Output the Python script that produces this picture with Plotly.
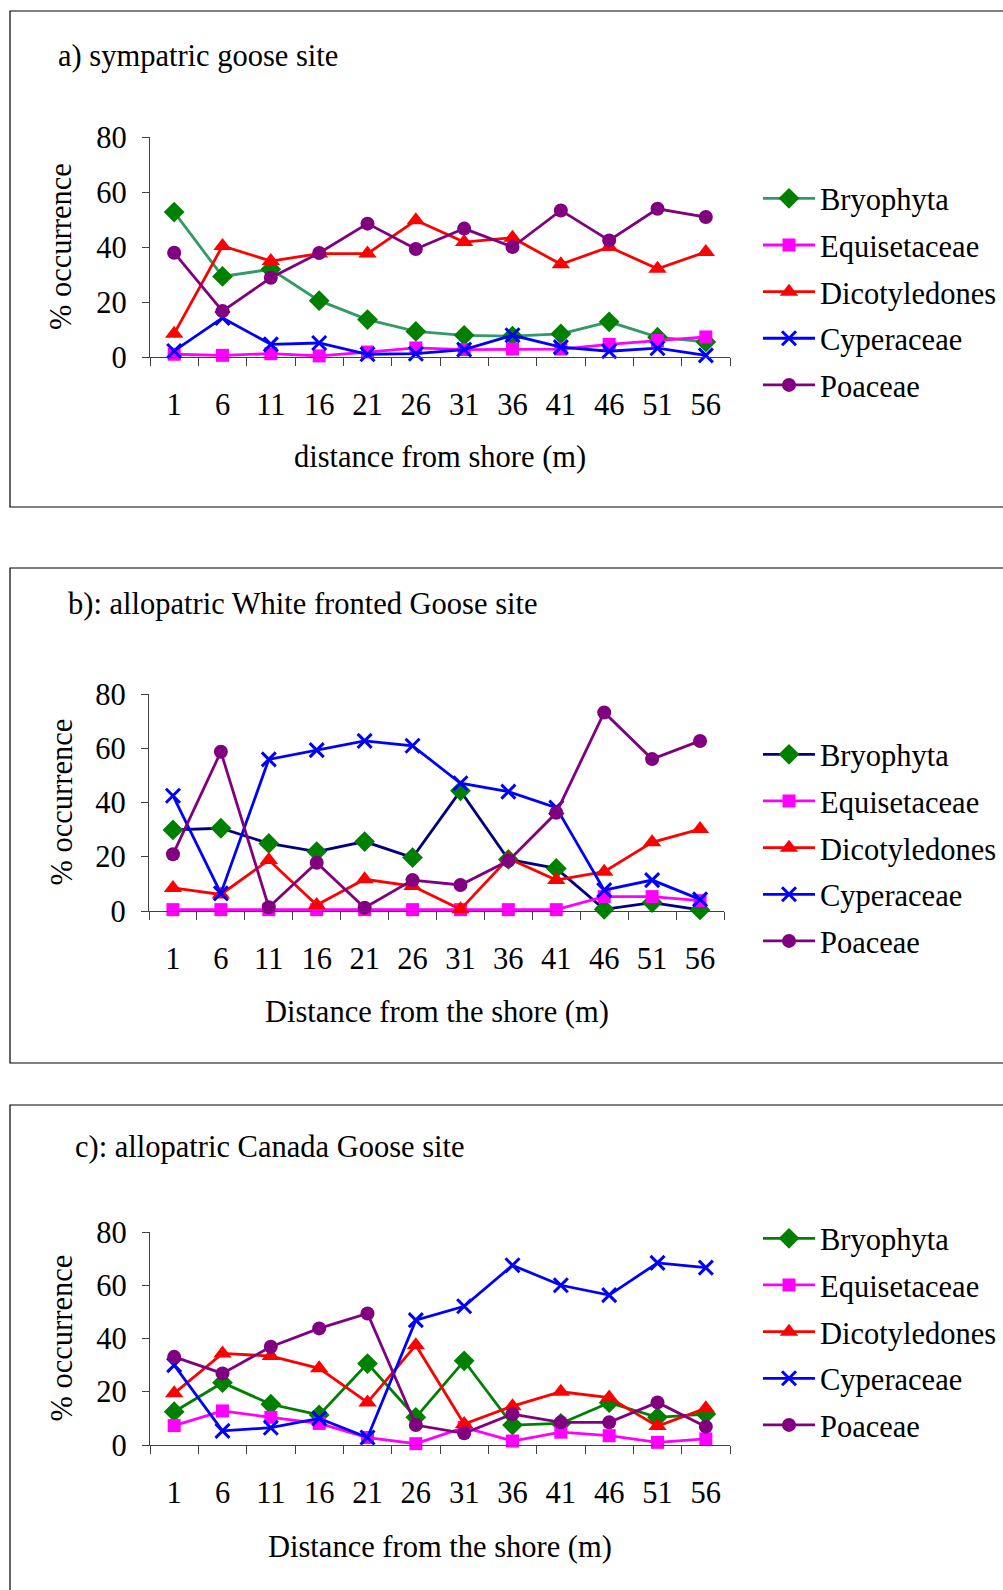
import plotly.graph_objects as go

W, H = 1003, 1590

distances = ["1", "6", "11", "16", "21", "26", "31", "36", "41", "46", "51", "56"]
species = ["Bryophyta", "Equisetaceae", "Dicotyledones", "Cyperaceae", "Poaceae"]

# Panel a: sympatric goose site
a_bryophyta = [52.7, 29.3, 31.9, 20.5, 13.6, 9.3, 7.9, 7.6, 8.4, 12.8, 7.2, 5.5]
a_equisetaceae = [1.0, 0.6, 1.2, 0.4, 1.8, 3.3, 2.7, 2.9, 2.9, 4.6, 6.0, 7.3]
a_dicotyledones = [8.5, 40.4, 34.9, 37.6, 37.6, 49.7, 41.8, 43.4, 33.7, 40.0, 32.1, 38.2]
a_cyperaceae = [2.2, 14.2, 4.6, 5.1, 1.0, 1.2, 2.7, 7.9, 3.6, 2.1, 3.2, 0.6]
a_poaceae = [37.9, 16.7, 28.8, 37.8, 48.5, 39.3, 46.7, 40.0, 53.3, 42.4, 53.9, 50.9]

# Panel b: allopatric White fronted Goose site
b_bryophyta = [29.9, 30.5, 24.9, 21.9, 25.6, 19.7, 44.3, 19.0, 15.7, 0.6, 3.1, 0.4]
b_equisetaceae = [0.5, 0.5, 0.5, 0.5, 0.5, 0.5, 0.5, 0.5, 0.5, 5.3, 5.3, 3.8]
b_dicotyledones = [8.5, 6.1, 18.8, 2.2, 11.7, 9.2, 0.6, 19.4, 11.4, 14.5, 25.3, 30.2]
b_cyperaceae = [42.5, 6.5, 55.9, 59.3, 62.7, 60.9, 47.1, 44.0, 38.1, 7.7, 11.4, 4.3]
b_poaceae = [20.9, 58.7, 1.4, 17.8, 1.2, 11.4, 9.6, 18.5, 36.2, 73.2, 56.0, 62.7]

# Panel c: allopatric Canada Goose site
c_bryophyta = [12.5, 23.4, 15.3, 11.3, 30.6, 10.4, 31.6, 7.5, 8.1, 15.9, 10.4, 11.6]
c_equisetaceae = [7.3, 12.8, 10.4, 8.1, 2.8, 0.5, 6.6, 1.5, 4.8, 3.5, 1.0, 2.3]
c_dicotyledones = [19.4, 34.4, 33.4, 28.8, 16.0, 37.5, 7.9, 14.6, 20.0, 17.8, 7.1, 13.8]
c_cyperaceae = [30.0, 5.3, 6.5, 10.0, 2.8, 46.9, 52.1, 67.5, 60.0, 56.3, 68.4, 66.6]
c_poaceae = [33.1, 26.9, 36.9, 43.8, 49.4, 7.5, 4.4, 11.6, 8.5, 8.5, 16.0, 6.9]

y_ticks = [0, 20, 40, 60, 80]

titles = ["a) sympatric goose site",
          "b): allopatric White fronted Goose site",
          "c): allopatric Canada Goose site"]
x_titles = ["distance from shore (m)",
            "Distance from the shore (m)",
            "Distance from the shore (m)"]
y_title = "% occurrence"

FONT = "Liberation Serif, Times New Roman, serif"
FS = 30.5


def px(x):
    return x / W


def py(y):
    return 1 - y / H


panels = [
    dict(data=[a_bryophyta, a_equisetaceae, a_dicotyledones, a_cyperaceae, a_poaceae],
         bryo_line="#339966", x0=150, x1=730, ytop=137, ybot=357,
         box=(10, 11, 1013, 507), title_xy=(56, 56), xt_y=457, leg_y=172),
    dict(data=[b_bryophyta, b_equisetaceae, b_dicotyledones, b_cyperaceae, b_poaceae],
         bryo_line="#000080", x0=149, x1=724, ytop=694, ybot=911,
         box=(10, 568, 1013, 1063), title_xy=(66, 604), xt_y=1012, leg_y=728),
    dict(data=[c_bryophyta, c_equisetaceae, c_dicotyledones, c_cyperaceae, c_poaceae],
         bryo_line="#008000", x0=150, x1=730, ytop=1232, ybot=1445,
         box=(10, 1105, 1013, 1610), title_xy=(73, 1147), xt_y=1547, leg_y=1212),
]

fig = go.Figure()
layout = dict(width=W, height=H, margin=dict(l=0, r=0, t=0, b=0, pad=0, autoexpand=False),
              paper_bgcolor="white", plot_bgcolor="white",
              font=dict(family=FONT, size=FS, color="black"))
shapes = []
annotations = []

for i, p in enumerate(panels):
    n = i + 1
    xa = "x" if n == 1 else f"x{n}"
    ya = "y" if n == 1 else f"y{n}"
    lg = "legend" if n == 1 else f"legend{n}"
    styles = [
        dict(line=dict(color=p["bryo_line"], width=2.8),
             marker=dict(symbol="diamond", size=16, color="#008000")),
        dict(line=dict(color="#FF00FF", width=2.8),
             marker=dict(symbol="square", size=13, color="#FF00FF")),
        dict(line=dict(color="#FF0000", width=2.8),
             marker=dict(symbol="triangle-up", size=16, color="#FF0000")),
        dict(line=dict(color="#0000FF", width=2.8),
             marker=dict(symbol="x-thin", size=14, color="#0000FF",
                         line=dict(color="#0000FF", width=3))),
        dict(line=dict(color="#800080", width=2.8),
             marker=dict(symbol="circle", size=14, color="#800080")),
    ]
    for name, vals, st in zip(species, p["data"], styles):
        fig.add_trace(go.Scatter(x=distances, y=vals, name=name, mode="lines+markers",
                                 xaxis=xa, yaxis=ya, legend=lg, legendgroup=f"{n}{name}",
                                 cliponaxis=False, **st))
    xkey = "xaxis" if n == 1 else f"xaxis{n}"
    ykey = "yaxis" if n == 1 else f"yaxis{n}"
    layout[xkey] = dict(domain=[px(p["x0"]), px(p["x1"])], anchor=ya, automargin=False,
                        type="category", categoryorder="array", categoryarray=distances,
                        range=[-0.5, len(distances) - 0.5], autorange=False,
                        showline=True, linecolor="#404040", linewidth=1.3,
                        ticks="outside", ticklen=8, tickcolor="#404040", tickwidth=1.3,
                        tickson="boundaries", showgrid=False, zeroline=False,
                        ticklabelstandoff=20, fixedrange=True,
                        tickfont=dict(family=FONT, size=FS))
    layout[ykey] = dict(domain=[py(p["ybot"]), py(p["ytop"])], anchor=xa, automargin=False,
                        range=[0, 80], tickvals=y_ticks,
                        showline=True, linecolor="#404040", linewidth=1.3,
                        ticks="outside", ticklen=7, tickcolor="#404040", tickwidth=1.3,
                        showgrid=False, zeroline=False, ticklabelstandoff=9,
                        fixedrange=True, tickfont=dict(family=FONT, size=FS))
    layout[lg] = dict(x=px(758), y=py(p["leg_y"]), xanchor="left", yanchor="top",
                      bgcolor="rgba(0,0,0,0)", font=dict(family=FONT, size=FS),
                      itemwidth=52,
                      tracegroupgap=4, itemclick=False, itemdoubleclick=False)
    bx0, by0, bx1, by1 = p["box"]
    shapes.append(dict(type="rect", xref="paper", yref="paper",
                       x0=px(bx0), x1=px(bx1), y0=py(by1), y1=py(by0),
                       line=dict(color="black", width=1.2), fillcolor="rgba(0,0,0,0)"))
    tx, ty = p["title_xy"]
    annotations.append(dict(text=titles[i], xref="paper", yref="paper",
                            x=px(tx), y=py(ty), xanchor="left", yanchor="middle",
                            showarrow=False, font=dict(family=FONT, size=FS)))
    annotations.append(dict(text=x_titles[i], xref="paper", yref="paper",
                            x=px((p["x0"] + p["x1"]) / 2), y=py(p["xt_y"]),
                            xanchor="center", yanchor="middle",
                            showarrow=False, font=dict(family=FONT, size=FS)))
    annotations.append(dict(text=y_title, xref="paper", yref="paper",
                            x=px(61), y=py((p["ytop"] + p["ybot"]) / 2),
                            xanchor="center", yanchor="middle", textangle=-90,
                            showarrow=False, font=dict(family=FONT, size=FS)))

layout["shapes"] = shapes
layout["annotations"] = annotations
layout["showlegend"] = True
fig.update_layout(**layout)
fig.write_html("out.html", config={"displayModeBar": False})
